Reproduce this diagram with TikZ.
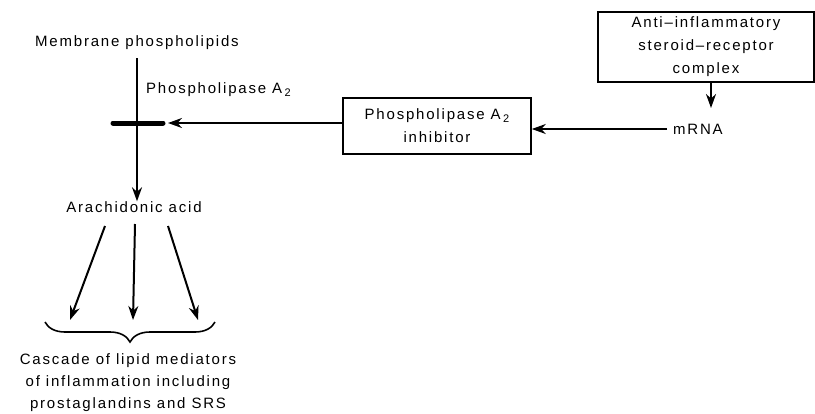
\documentclass[tikz,border=0pt]{standalone}
\usepackage{fontspec}
\setmainfont{Liberation Sans}[LetterSpace=12]
\usetikzlibrary{arrows.meta,decorations.pathreplacing}
\newcommand{\subtwo}{\raisebox{-0.35ex}{\fontsize{11}{11}\selectfont 2}}
\begin{document}
\begin{tikzpicture}[x=1pt,y=-1pt,
  lbl/.style={font=\fontsize{15}{22}\selectfont, inner sep=0pt, align=center},
  arr/.style={line width=2pt, -{Stealth[length=14pt,width=10pt]}},
  boxn/.style={draw, line width=1.6pt, minimum width=#1, inner sep=0pt, align=center, font=\fontsize{15}{23}\selectfont}]
\useasboundingbox (0,0) rectangle (815,413);
\node[lbl] (mem) at (137,43) {Membrane phospholipids};
\node[lbl, anchor=west] (pla) at (146,90) {Phospholipase A\,\subtwo};
\coordinate (bar) at (137,123);
\coordinate (barL) at (113,123);
\coordinate (barR) at (163,123);
\node[lbl] (ara) at (134,207) {Arachidonic acid};
\draw[line width=2pt] (137,58) -- (bar);
\draw[arr] (bar) -- (ara.north -| bar);
\draw[line width=5pt, line cap=round] (barL) -- (barR);
\node[boxn=188pt, minimum height=56pt] (inh) at (437,126) {Phospholipase A\,\subtwo\\inhibitor};
\node[boxn=216pt, minimum height=70pt] (anti) at (706,47) {Anti--inflammatory\\steroid--receptor\\complex};
\node[lbl, anchor=west] (mrna) at (673,129) {mRNA};
\draw[arr] ([xshift=-6pt]mrna.west) -- (inh.east |- mrna.west);
\draw[arr] (inh.west |- bar) -- ([xshift=5pt]barR);
\draw[arr] (anti.south -| 711,0) -- (711,108);
\coordinate (t1) at (70,320);
\coordinate (t2) at (133,320);
\coordinate (t3) at (198,320);
\draw[arr] (105,226) -- (t1);
\draw[arr] (135,224) -- (t2);
\draw[arr] (168,226) -- (t3);
\draw[line width=1.6pt, decorate, decoration={brace, amplitude=20pt, mirror}] (45,322) -- (215,322);
\node[lbl] (cas) at (128,383) {Cascade of lipid mediators\\of inflammation including\\prostaglandins and SRS};
\end{tikzpicture}
\end{document}
